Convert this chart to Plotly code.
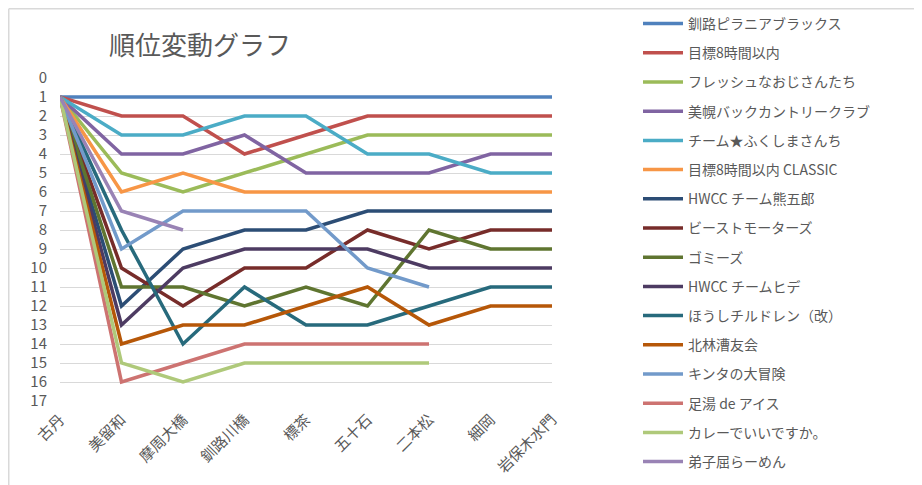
import plotly.graph_objects as go

categories = ["古丹", "美留和", "摩周大橋", "釧路川橋", "標茶", "五十石", "二本松", "細岡", "岩保木水門"]

team_names = [
    "釧路ピラニアブラックス",
    "目標8時間以内",
    "フレッシュなおじさんたち",
    "美幌バックカントリークラブ",
    "チーム★ふくしまさんち",
    "目標8時間以内 CLASSIC",
    "HWCC チーム熊五郎",
    "ビーストモーターズ",
    "ゴミーズ",
    "HWCC チームヒデ",
    "ほうしチルドレン（改）",
    "北林漕友会",
    "キンタの大冒険",
    "足湯 de アイス",
    "カレーでいいですか。",
    "弟子屈らーめん",
]

rank_piranha = [1, 1, 1, 1, 1, 1, 1, 1, 1]
rank_mokuhyo8 = [1, 2, 2, 4, 3, 2, 2, 2, 2]
rank_fresh = [1, 5, 6, 5, 4, 3, 3, 3, 3]
rank_bihoro = [1, 4, 4, 3, 5, 5, 5, 4, 4]
rank_fukushima = [1, 3, 3, 2, 2, 4, 4, 5, 5]
rank_classic = [1, 6, 5, 6, 6, 6, 6, 6, 6]
rank_kumagoro = [1, 12, 9, 8, 8, 7, 7, 7, 7]
rank_beast = [1, 10, 12, 10, 10, 8, 9, 8, 8]
rank_gomies = [1, 11, 11, 12, 11, 12, 8, 9, 9]
rank_hide = [1, 13, 10, 9, 9, 9, 10, 10, 10]
rank_houshi = [1, 8, 14, 11, 13, 13, 12, 11, 11]
rank_kitabayashi = [1, 14, 13, 13, 12, 11, 13, 12, 12]
rank_kinta = [1, 9, 7, 7, 7, 10, 11, None, None]
rank_ashiyu = [1, 16, 15, 14, 14, 14, 14, None, None]
rank_curry = [1, 15, 16, 15, 15, 15, 15, None, None]
rank_ramen = [1, 7, 8, None, None, None, None, None, None]

ranks = [rank_piranha, rank_mokuhyo8, rank_fresh, rank_bihoro, rank_fukushima,
         rank_classic, rank_kumagoro, rank_beast, rank_gomies, rank_hide,
         rank_houshi, rank_kitabayashi, rank_kinta, rank_ashiyu, rank_curry, rank_ramen]

y_ticks = list(range(0, 18))

colors = ["#4F81BD", "#C0504D", "#9BBB59", "#8064A2", "#4BACC6", "#F79646",
          "#2C4D75", "#772C2A", "#5F7530", "#4D3B62", "#276A7C", "#B65708",
          "#729ACA", "#CD7371", "#AFC97A", "#9983B5"]

FONT = "Noto Sans CJK JP"
W, H = 922, 485
OFF = 8  # page body margin compensation
L, R, T, B = 60 - OFF, 552 - OFF, 78 - OFF, 401 - OFF

fig = go.Figure()
for i, (name, vals) in enumerate(zip(team_names, ranks)):
    fig.add_trace(go.Scatter(
        x=categories, y=vals, name=name, mode="lines",
        line=dict(color=colors[i], width=3.5),
        legendgroup="g%d" % i,
        connectgaps=False,
    ))

border_x = 0.75
border_y = 0.75

fig.update_layout(
    width=W, height=H, autosize=False,
    margin=dict(l=L, r=W - R, t=T, b=H - B, pad=0, autoexpand=False),
    paper_bgcolor="white", plot_bgcolor="white",
    font=dict(family=FONT, color="#595959"),
    title=dict(text="順位変動グラフ", x=(200 - OFF) / W, y=1 - (46 - OFF) / H,
               xanchor="center", yanchor="middle", xref="container", yref="container",
               font=dict(size=26, color="#595959", family=FONT)),
    xaxis=dict(type="category", categoryorder="array", categoryarray=categories,
               range=[0, len(categories) - 1], showgrid=False, zeroline=False,
               showline=False, tickangle=-45, ticks="",
               tickfont=dict(size=15, color="#595959", family=FONT),
               ticklabelstandoff=6),
    yaxis=dict(range=[17, 0], autorange=False, tickmode="array", tickvals=y_ticks,
               ticktext=[str(v) for v in y_ticks], showgrid=True, gridcolor="#D9D9D9",
               gridwidth=1.3, zeroline=False, showline=False, ticks="",
               tickfont=dict(size=15, color="#595959", family=FONT),
               ticklabelstandoff=12),
    legend=dict(x=(630 - L) / (R - L), xref="paper", y=1, yref="container",
                xanchor="left", yanchor="top", tracegroupgap=8, maxheight=H,
                font=dict(size=14, color="#595959", family=FONT),
                bgcolor="rgba(0,0,0,0)", itemwidth=40),
    shapes=[
        dict(type="line", xref="paper", yref="paper",
             x0=(border_x - L) / (R - L), x1=(W + 5 - L) / (R - L),
             y0=1 + (T - border_y) / (B - T), y1=1 + (T - border_y) / (B - T),
             line=dict(color="#D9D9D9", width=1.5)),
        dict(type="line", xref="paper", yref="paper",
             x0=(border_x - L) / (R - L), x1=(border_x - L) / (R - L),
             y0=1 + (T - border_y) / (B - T), y1=-(H + 5 - B) / (B - T),
             line=dict(color="#D9D9D9", width=1.5)),
    ],
)

fig.write_html("out.html")
